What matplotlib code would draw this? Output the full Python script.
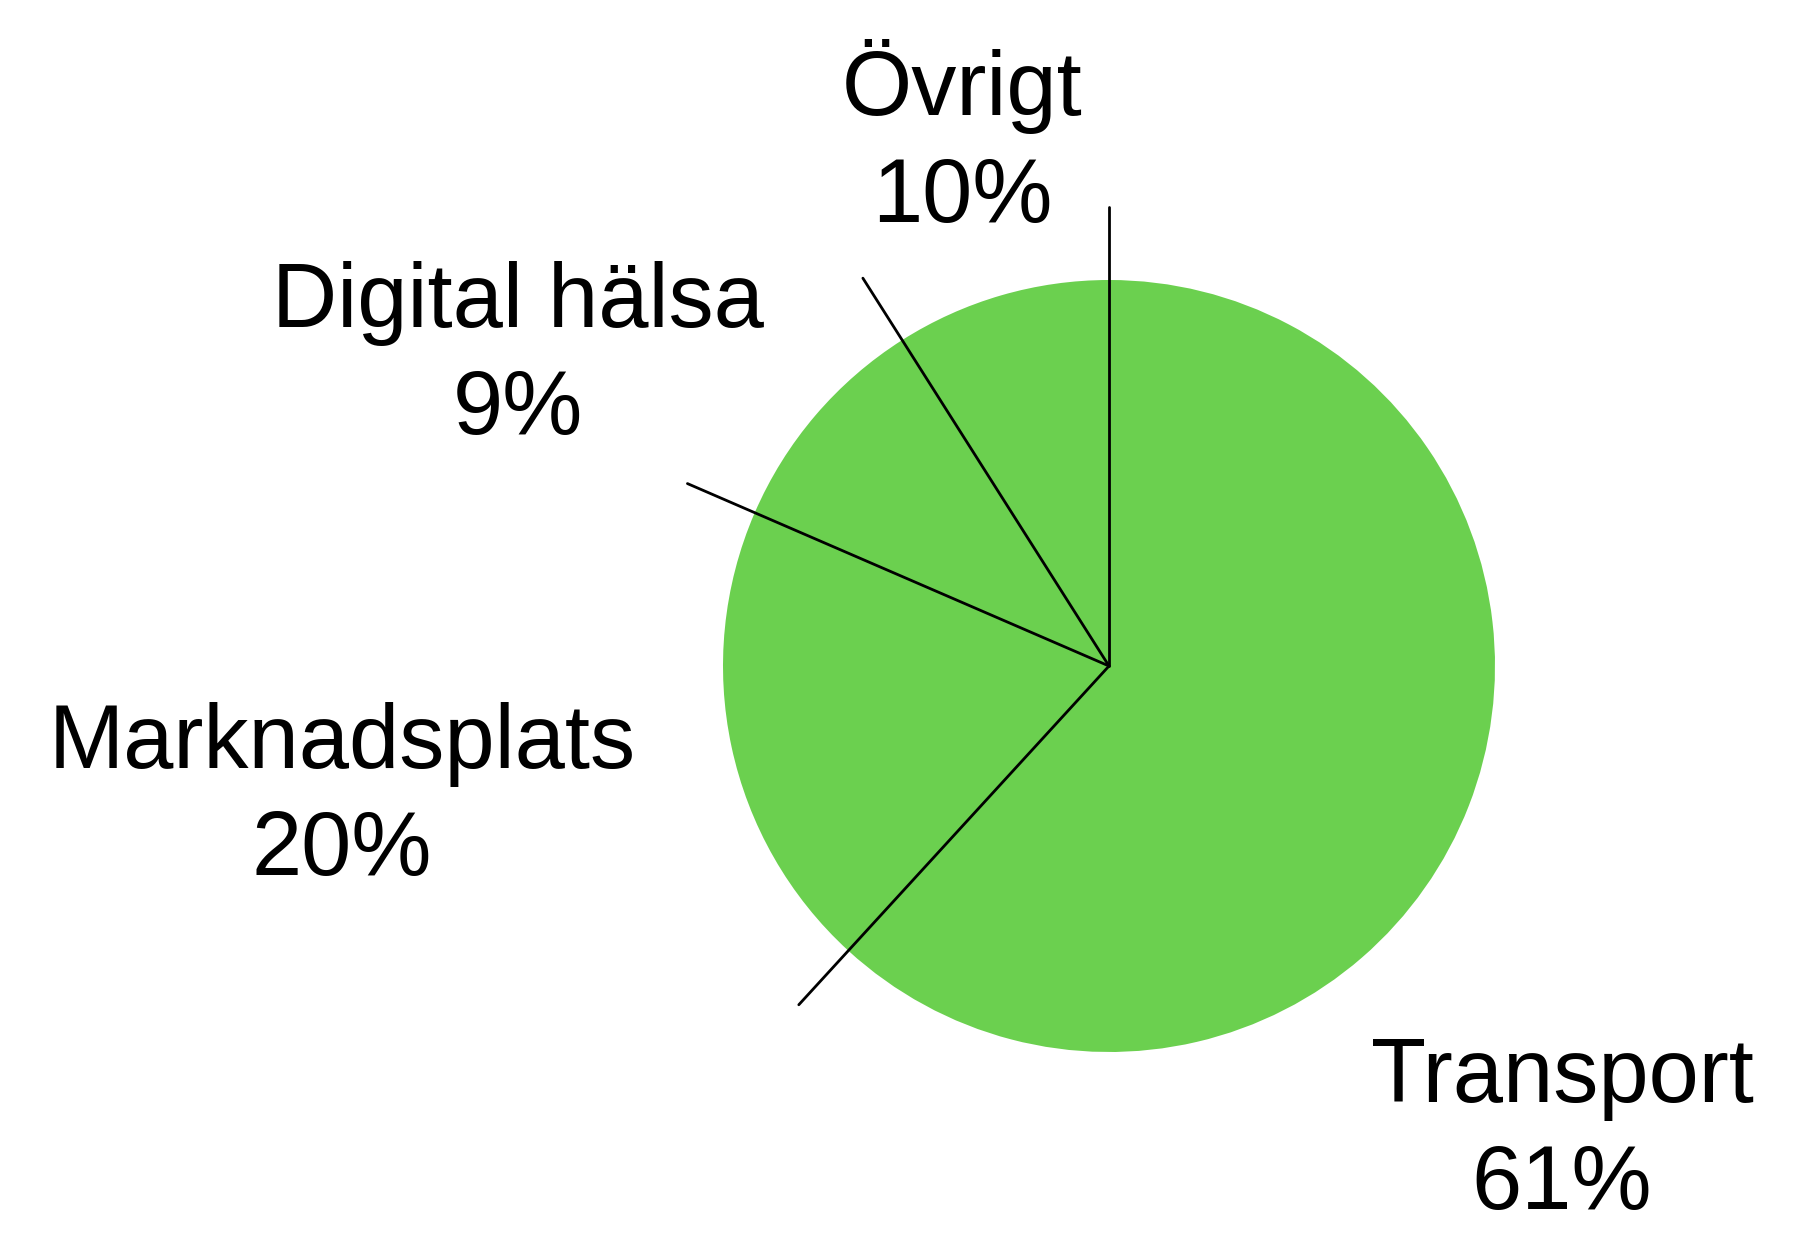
import numpy as np
import matplotlib
matplotlib.use("Agg")
import matplotlib.pyplot as plt

# data
categories = ["Transport", "Marknadsplats", "Digital hälsa", "Övrigt"]
shares = [61.8, 19.7, 9.5, 9.0]          # drawn slice sizes
pct_labels = ["61%", "20%", "9%", "10%"]  # printed percentages

# layout (pixel coordinates, y up)
W, H = 1802, 1252
center = (1109, H - 666)
radius = 386
line_len = 1.19
label_pos = [(1562, H - 1132), (342, H - 798), (518, H - 357), (962, H - 140)]

green = "#6BD04F"

plt.rcParams["font.family"] = ["Liberation Sans", "DejaVu Sans"]

fig = plt.figure(figsize=(W / 100, H / 100), dpi=100)
ax = fig.add_axes([0, 0, 1, 1])

wedges, _ = ax.pie(shares, colors=[green] * len(shares), startangle=90,
                   counterclock=False, center=center, radius=radius,
                   wedgeprops=dict(linewidth=0))

# separator lines from the centre out past the rim
for w in wedges:
    a = np.deg2rad(w.theta1)
    ax.plot([center[0], center[0] + line_len * radius * np.cos(a)],
            [center[1], center[1] + line_len * radius * np.sin(a)],
            color="black", lw=2.0, solid_capstyle="round", zorder=3)

for cat, pct, (x, y) in zip(categories, pct_labels, label_pos):
    ax.text(x, y, f"{cat}\n{pct}", ha="center", va="center", fontsize=65,
            linespacing=1.32, color="black")

ax.set_xlim(0, W)
ax.set_ylim(0, H)
ax.set_aspect("equal")
ax.axis("off")

fig.savefig("out.png", dpi=100, facecolor="white")
